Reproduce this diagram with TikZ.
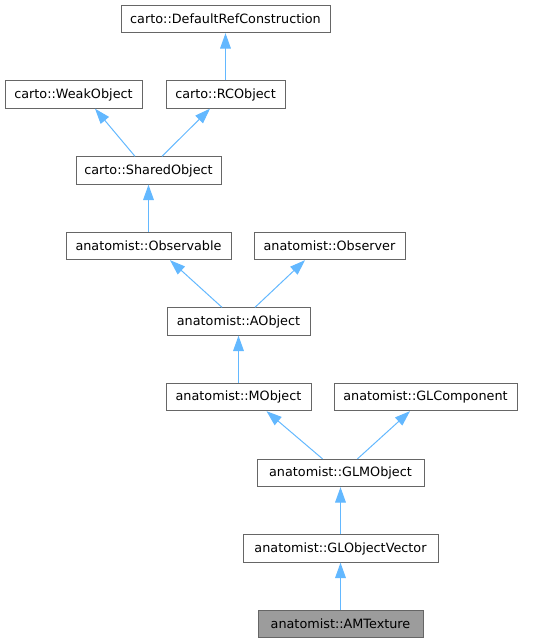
\documentclass[tikz,border=0pt]{standalone}
\usepackage{fontspec}
\setmainfont{DejaVu Sans}
\usetikzlibrary{arrows.meta,calc}
\definecolor{edgeblue}{HTML}{63B8FF}
\definecolor{boxgray}{HTML}{666666}
\tikzset{
    cls/.style={draw=boxgray, line width=0.75pt, fill=white, minimum height=20.5pt, inner sep=0pt, font=\fontsize{9.6}{11}\selectfont},
    inh/.style={edgeblue, line width=0.75pt, -{Triangle[length=11.5pt,width=8pt]}}
}
\begin{document}
\begin{tikzpicture}[x=0.75pt,y=-0.75pt]
        \useasboundingbox (0,0) rectangle (536,644);

        \node[cls, minimum width=156.75pt] (defref) at (225.5,19) {carto::DefaultRefConstruction};
        \node[cls, minimum width=102.75pt] (weak) at (73.5,94.5) {carto::WeakObject};
        \node[cls, minimum width=89.25pt] (rcobj) at (225.5,94.5) {carto::RCObject};
        \node[cls, minimum width=108.75pt] (shared) at (148.5,170.5) {carto::SharedObject};
        \node[cls, minimum width=123.75pt] (observable) at (148.5,246) {anatomist::Observable};
        \node[cls, minimum width=113.25pt] (observer) at (329.5,246) {anatomist::Observer};
        \node[cls, minimum width=107.25pt] (aobj) at (238.5,321.5) {anatomist::AObject};
        \node[cls, minimum width=108.75pt] (mobj) at (238.5,397) {anatomist::MObject};
        \node[cls, minimum width=137.25pt] (glcomp) at (425.5,397) {anatomist::GLComponent};
        \node[cls, minimum width=125.25pt] (glmobj) at (340.5,473) {anatomist::GLMObject};
        \node[cls, minimum width=146.25pt] (glvec) at (340.5,548.5) {anatomist::GLObjectVector};
        \node[cls, minimum width=123.75pt, fill=boxgray!65] (amtex) at (340.5,624) {anatomist::AMTexture};

        \draw[inh](rcobj)--(defref);
        \draw[inh]($(shared.north)+(-13.5,0)$)--($(weak.south)+(21.5,0)$);
        \draw[inh]($(shared.north)+(13.5,0)$)--($(rcobj.south)+(-15.5,0)$);
        \draw[inh](observable)--(shared);
        \draw[inh]($(aobj.north)+(-16.5,0)$)--($(observable.south)+(21.5,0)$);
        \draw[inh]($(aobj.north)+(16.5,0)$)--($(observer.south)+(-24.5,0)$);
        \draw[inh](mobj)--(aobj);
        \draw[inh]($(glmobj.north)+(-18,0)$)--($(mobj.south)+(28,0)$);
        \draw[inh]($(glmobj.north)+(17,0)$)--($(glcomp.south)+(-15.5,0)$);
        \draw[inh](glvec)--(glmobj);
        \draw[inh](amtex)--(glvec);
    \end{tikzpicture}
\end{document}
